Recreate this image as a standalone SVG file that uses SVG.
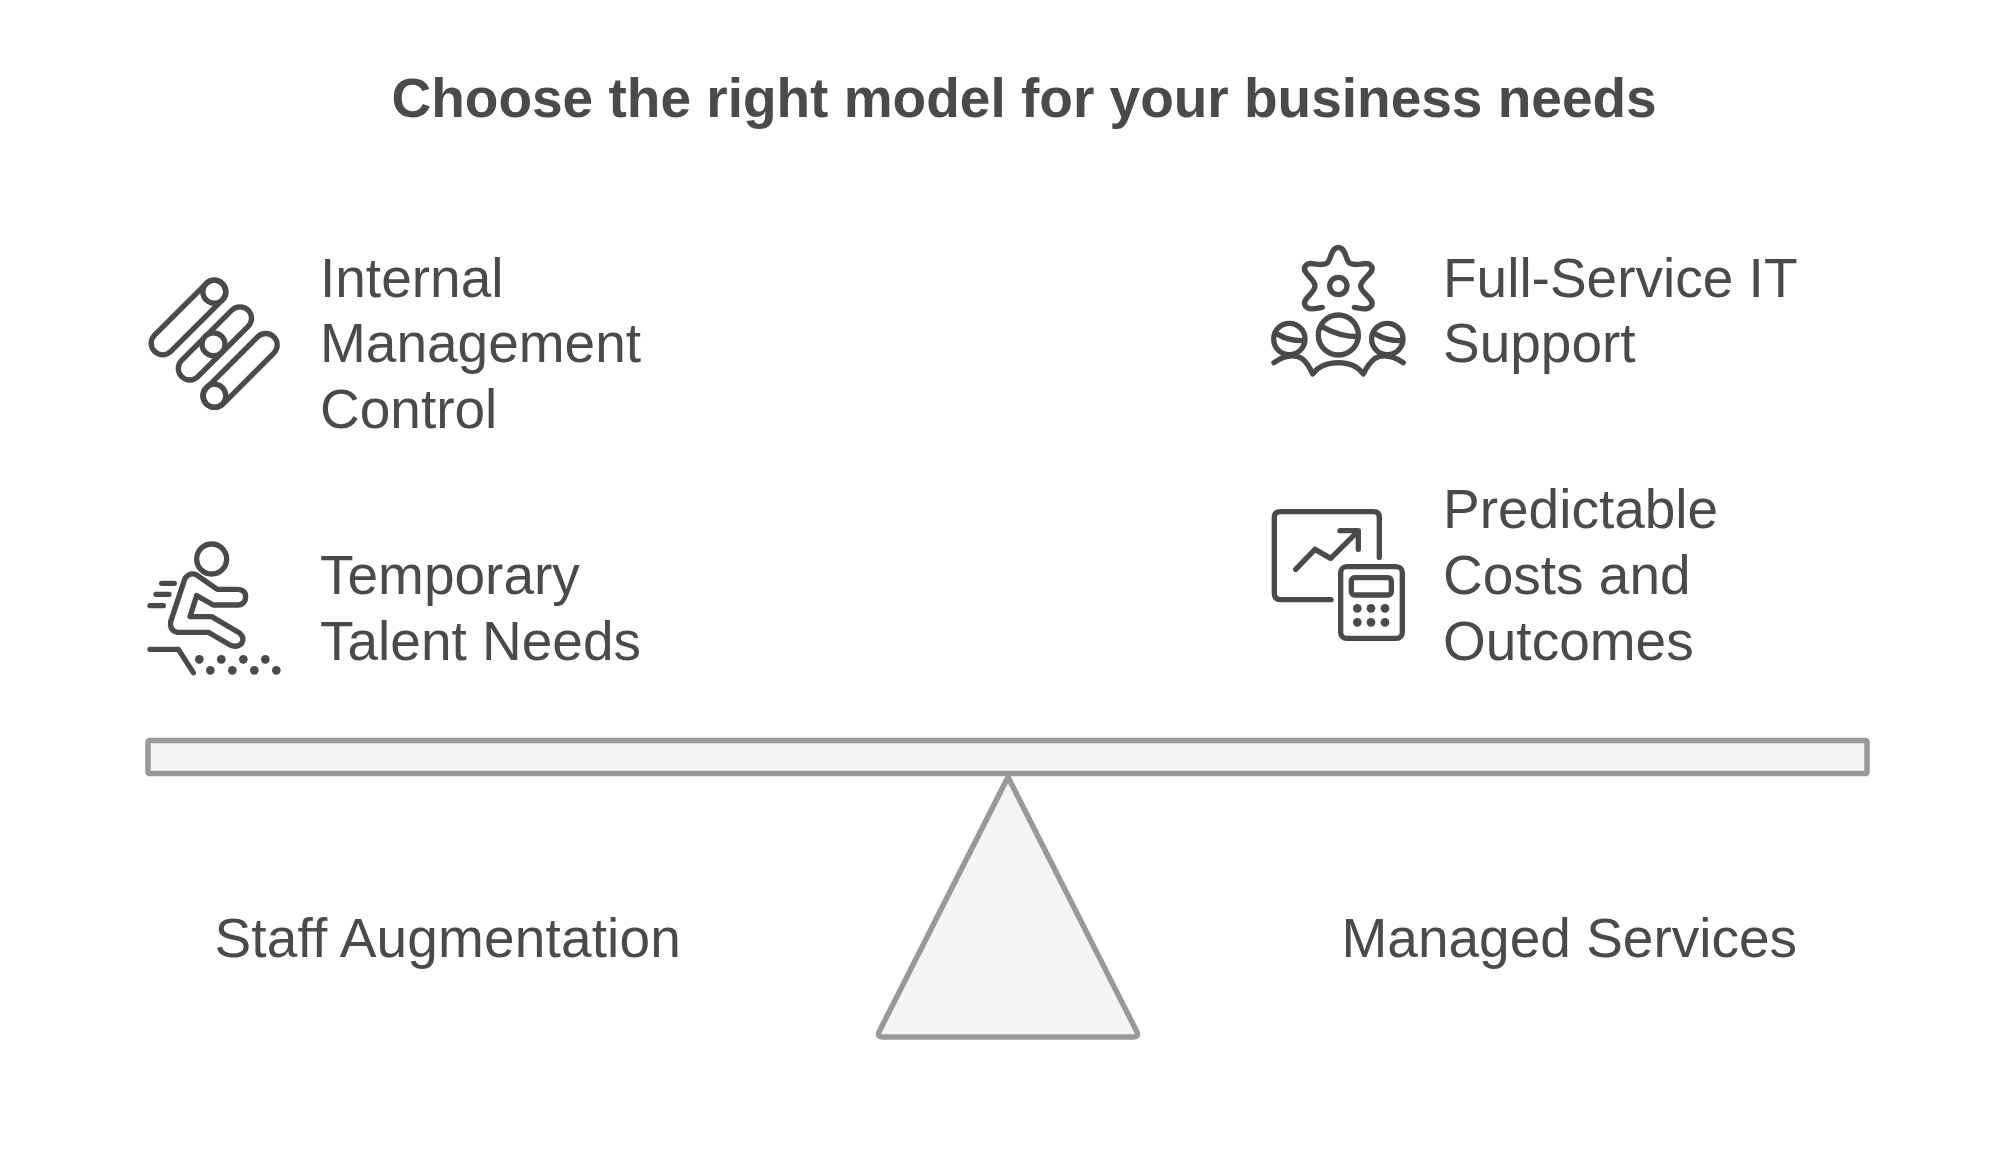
<svg xmlns="http://www.w3.org/2000/svg" width="1999" height="1162" viewBox="0 0 1999 1162">
<style>
text{font-family:"Liberation Sans",Arial,sans-serif;fill:#4a4a4a;font-size:55px}
.title{font-weight:700;font-size:55px}
.shape{fill:#f5f5f5;stroke:#999;stroke-width:5.5;stroke-linejoin:round}
.ic{fill:none;stroke:#4a4a4a;stroke-width:16;stroke-linecap:round;stroke-linejoin:round}
.ic6{fill:none;stroke:#4a4a4a;stroke-width:5.3;stroke-linecap:round;stroke-linejoin:round}
.dots circle{fill:#4a4a4a;stroke:none}
</style>
<rect width="1999" height="1162" fill="#fff"/>
<g id="title"><text class="title" x="391.5" y="117">Choose the right model for your business needs</text></g>
<g id="beam"><rect class="shape" x="148" y="740.5" width="1719" height="33" rx="1.5"/></g>
<g id="fulcrum"><path class="shape" d="M1008 777 L1136 1030 Q1140 1037 1133 1037 L883 1037 Q876 1037 880 1030 Z"/></g>
<g id="node-internal">
<g class="ic6">
<rect transform="translate(214.3 291.7) rotate(135)" x="-11.5" y="-11.5" width="96" height="23" rx="11.5"/>
<rect transform="translate(240 318.3) rotate(135)" x="-11.5" y="-11.5" width="94" height="23" rx="11.5"/>
<rect transform="translate(265.7 345) rotate(135)" x="-11.5" y="-11.5" width="95" height="23" rx="11.5"/>
<circle cx="214.3" cy="291.7" r="11.5"/><circle cx="213.5" cy="344.3" r="11.5" fill="#fff"/><circle cx="214.3" cy="395.7" r="11.5"/>
</g>
<text x="320" y="296.5">Internal</text><text x="320" y="362">Management</text><text x="320" y="428">Control</text>
</g>
<g id="node-temporary">
<g class="ic" transform="translate(130 530) scale(.3333)">
<circle cx="245" cy="87" r="45"/>
<path d="M262 178 L325 178 Q347 180 347 200 Q347 222 325 225 L250 225 L200 197 L180 260 L245 260 L330 310 Q345 325 335 340 Q320 355 300 345 L235 307 L140 307 Q118 300 122 275 L165 145 Q180 125 200 135 Z"/>
<path d="M95 160H133M78 193H117M60 227H100M60 358H145L190 428"/>
<g class="dots"><circle cx="208" cy="388" r="13"/><circle cx="274" cy="388" r="13"/><circle cx="340" cy="388" r="13"/><circle cx="406" cy="388" r="13"/><circle cx="241" cy="421" r="13"/><circle cx="307" cy="421" r="13"/><circle cx="373" cy="421" r="13"/><circle cx="439" cy="421" r="13"/></g>
</g>
<text x="320" y="593.5">Temporary</text><text x="320" y="659.5">Talent Needs</text>
</g>
<g id="node-fullservice">
<g class="ic" transform="translate(1260 230) scale(.3333)">
<path d="M187 232 C165 236 148 242 136 228 C122 208 165 190 165 168 C165 145 122 128 136 108 C148 90 180 112 200 100 C215 90 210 55 235 52 C260 55 255 90 270 100 C290 112 322 90 334 108 C348 128 302 145 302 168 C302 190 348 208 334 228 C322 242 305 236 283 232"/>
<circle cx="235" cy="168" r="26"/><circle cx="235" cy="315" r="60"/><circle cx="88" cy="327" r="47"/><circle cx="382" cy="327" r="47"/>
<path d="M190 292 Q240 320 295 320M55 314 Q85 332 125 332M350 314 Q380 332 420 332"/>
<path d="M42 398 Q90 365 125 385 Q145 400 158 432 Q180 400 235 398 Q285 398 310 432 Q325 400 345 385 Q380 365 430 398"/>
</g>
<text x="1443" y="296.5">Full-Service IT</text><text x="1443" y="362">Support</text>
</g>
<g id="node-predictable">
<g class="ic" transform="translate(1260 500) scale(.3333)">
<path d="M213 299 L62 299 Q43 299 43 280 L43 52 Q43 35 62 35 L340 35 Q358 35 358 52 L358 172"/>
<path d="M107 208 L165 148 L212 175 L293 95M240 92 L295 92 L295 148"/>
<rect x="242" y="200" width="185" height="215" rx="18"/><rect x="274" y="233" width="120" height="52" rx="10"/>
<g class="dots"><circle cx="292" cy="325" r="13"/><circle cx="333" cy="325" r="13"/><circle cx="375" cy="325" r="13"/><circle cx="292" cy="367" r="13"/><circle cx="333" cy="367" r="13"/><circle cx="375" cy="367" r="13"/></g>
</g>
<text x="1443" y="527.5">Predictable</text><text x="1443" y="593.5">Costs and</text><text x="1443" y="659.5">Outcomes</text>
</g>
<g id="label-staff"><text x="214.5" y="957" letter-spacing=".15">Staff Augmentation</text></g>
<g id="label-managed"><text x="1341.5" y="957">Managed Services</text></g>
</svg>
